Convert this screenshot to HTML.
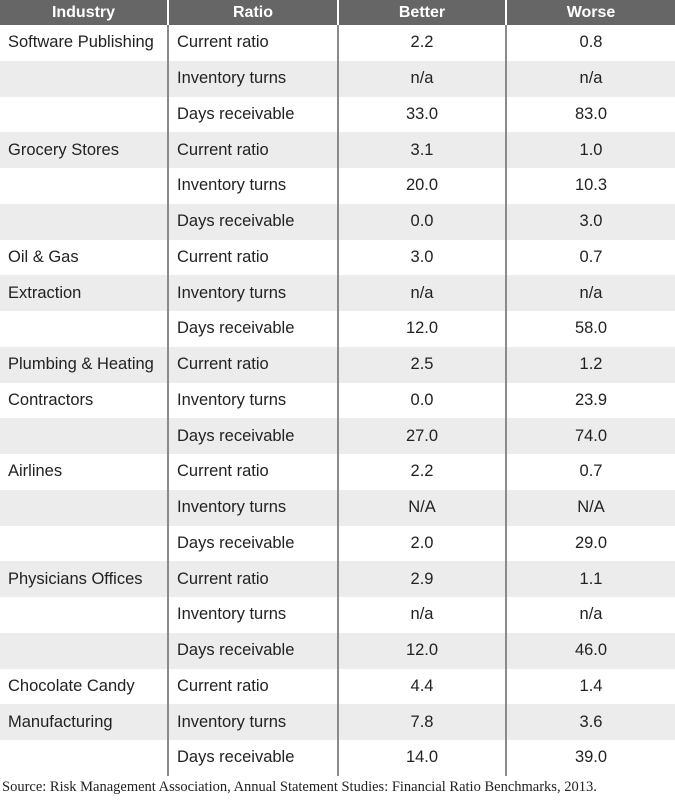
<!DOCTYPE html>
<html><head><meta charset="utf-8"><style>
body{margin:0;width:675px;height:800px;background:#fff;overflow:hidden;font-family:"Liberation Sans",sans-serif;}
table{border-collapse:collapse;table-layout:fixed;width:675px;position:absolute;top:0;left:0;}
th{background:#666;color:#fff;font-weight:bold;font-size:16px;height:25px;padding:0;text-align:center;border-left:2px solid #fff;}
th:first-child{border-left:none}
td{height:35.76px;padding:0 8px;font-size:16.5px;color:#222;border-left:2px solid #8a8a8a;white-space:nowrap;}
td:first-child{border-left:none}
td.n{text-align:center}
tr.g td{background:#ececec}
.src{position:absolute;top:779px;left:2px;font-family:"Liberation Serif",serif;font-size:14.5px;color:#222;white-space:nowrap;}
</style></head><body>
<table>
<colgroup><col style="width:168px"><col style="width:170px"><col style="width:168px"><col style="width:169px"></colgroup>
<thead><tr><th>Industry</th><th>Ratio</th><th>Better</th><th>Worse</th></tr></thead>
<tbody>
<tr><td>Software Publishing</td><td>Current ratio</td><td class="n">2.2</td><td class="n">0.8</td></tr>
<tr class="g"><td></td><td>Inventory turns</td><td class="n">n/a</td><td class="n">n/a</td></tr>
<tr><td></td><td>Days receivable</td><td class="n">33.0</td><td class="n">83.0</td></tr>
<tr class="g"><td>Grocery Stores</td><td>Current ratio</td><td class="n">3.1</td><td class="n">1.0</td></tr>
<tr><td></td><td>Inventory turns</td><td class="n">20.0</td><td class="n">10.3</td></tr>
<tr class="g"><td></td><td>Days receivable</td><td class="n">0.0</td><td class="n">3.0</td></tr>
<tr><td>Oil &amp; Gas</td><td>Current ratio</td><td class="n">3.0</td><td class="n">0.7</td></tr>
<tr class="g"><td>Extraction</td><td>Inventory turns</td><td class="n">n/a</td><td class="n">n/a</td></tr>
<tr><td></td><td>Days receivable</td><td class="n">12.0</td><td class="n">58.0</td></tr>
<tr class="g"><td>Plumbing &amp; Heating</td><td>Current ratio</td><td class="n">2.5</td><td class="n">1.2</td></tr>
<tr><td>Contractors</td><td>Inventory turns</td><td class="n">0.0</td><td class="n">23.9</td></tr>
<tr class="g"><td></td><td>Days receivable</td><td class="n">27.0</td><td class="n">74.0</td></tr>
<tr><td>Airlines</td><td>Current ratio</td><td class="n">2.2</td><td class="n">0.7</td></tr>
<tr class="g"><td></td><td>Inventory turns</td><td class="n">N/A</td><td class="n">N/A</td></tr>
<tr><td></td><td>Days receivable</td><td class="n">2.0</td><td class="n">29.0</td></tr>
<tr class="g"><td>Physicians Offices</td><td>Current ratio</td><td class="n">2.9</td><td class="n">1.1</td></tr>
<tr><td></td><td>Inventory turns</td><td class="n">n/a</td><td class="n">n/a</td></tr>
<tr class="g"><td></td><td>Days receivable</td><td class="n">12.0</td><td class="n">46.0</td></tr>
<tr><td>Chocolate Candy</td><td>Current ratio</td><td class="n">4.4</td><td class="n">1.4</td></tr>
<tr class="g"><td>Manufacturing</td><td>Inventory turns</td><td class="n">7.8</td><td class="n">3.6</td></tr>
<tr><td></td><td>Days receivable</td><td class="n">14.0</td><td class="n">39.0</td></tr>
</tbody></table>
<div class="src">Source: Risk Management Association, Annual Statement Studies: Financial Ratio Benchmarks, 2013.</div>
</body></html>
